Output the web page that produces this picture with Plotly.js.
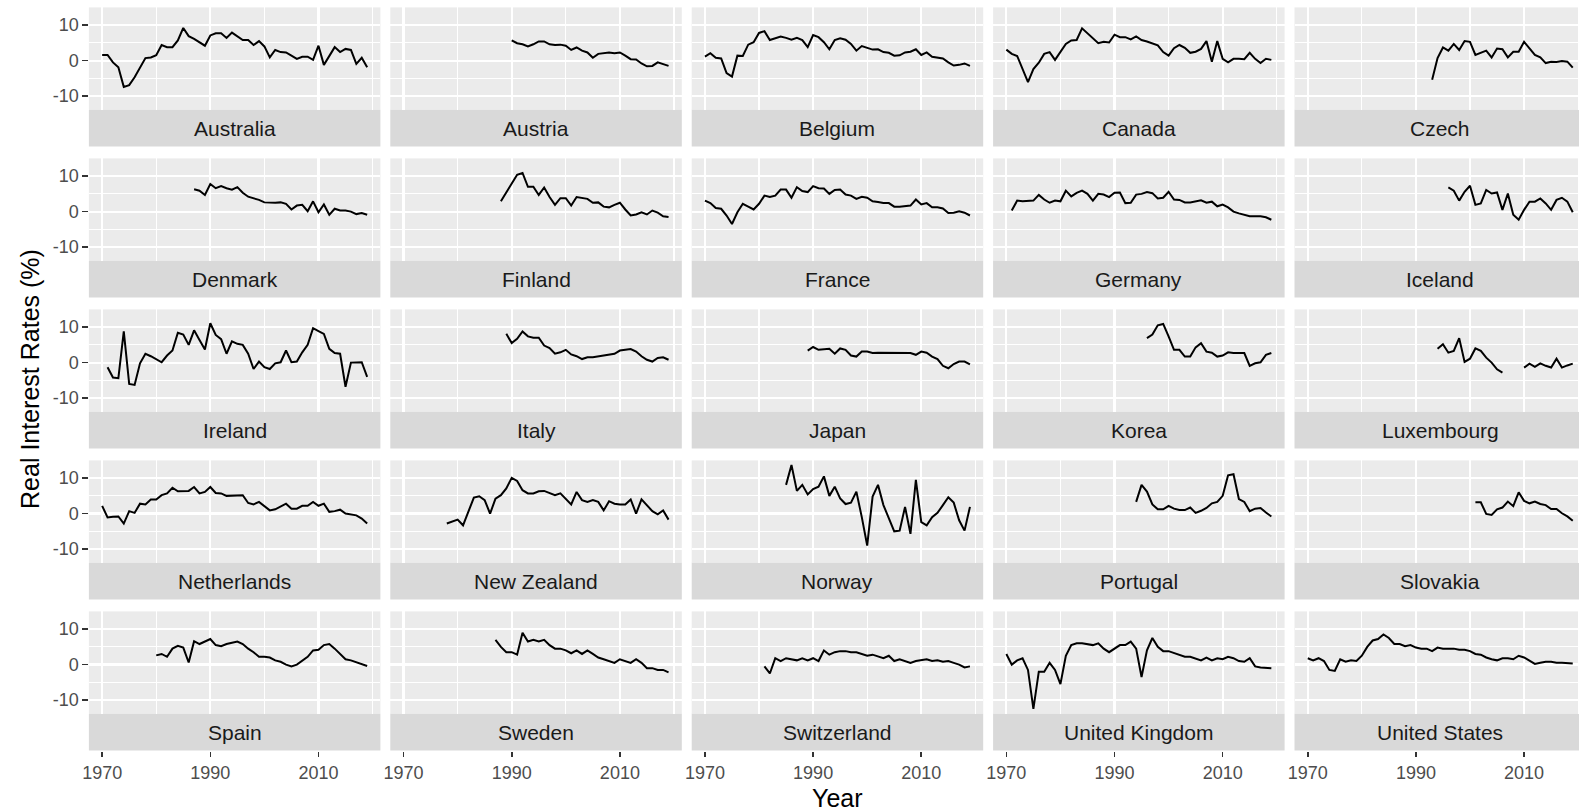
<!DOCTYPE html>
<html>
<head>
<meta charset="utf-8">
<script src="https://cdn.plot.ly/plotly-3.0.1.min.js"></script>
<style>
  html, body { margin: 0; padding: 0; overflow: hidden; background: #ffffff; }
  #chart { width: 1600px; height: 812px; }
</style>
</head>
<body>
<div id="chart"></div>
<script>
// Real interest rates (%) by country, one panel per country.
const countries = ["Australia", "Austria", "Belgium", "Canada", "Czech",
  "Denmark", "Finland", "France", "Germany", "Iceland",
  "Ireland", "Italy", "Japan", "Korea", "Luxembourg",
  "Netherlands", "New Zealand", "Norway", "Portugal", "Slovakia",
  "Spain", "Sweden", "Switzerland", "United Kingdom", "United States"];

// First year of each country's series (same order as countries)
const startYears = [1970, 1990, 1970, 1970, 1993,
  1987, 1988, 1970, 1971, 1996,
  1971, 1989, 1989, 1996, 1994,
  1970, 1978, 1985, 1994, 2001,
  1980, 1987, 1981, 1970, 1970];

const australia = [1.6, 1.6, -0.5, -1.9, -7.4, -6.9, -4.7, -1.9, 0.7, 0.9,
  1.5, 4.4, 3.8, 3.8, 5.7, 9.2, 6.9, 6.1, 5.1, 4.2,
  7.1, 7.7, 7.7, 6.4, 7.9, 6.9, 5.8, 5.8, 4.4, 5.5,
  4.0, 0.9, 3.0, 2.4, 2.3, 1.4, 0.5, 1.1, 1.1, 0.2,
  4.2, -1.2, 1.4, 3.8, 2.4, 3.3, 3.0, -0.9, 0.8, -1.9];
const austria = [5.7, 4.9, 4.6, 4.0, 4.6, 5.4, 5.4, 4.6, 4.4, 4.5,
  4.2, 3.0, 3.7, 2.8, 2.3, 0.8, 1.9, 2.1, 2.3, 2.1,
  2.3, 1.4, 0.4, 0.3, -0.8, -1.6, -1.5, -0.5, -1.1, -1.5];
const belgium = [1.1, 2.1, 0.8, 0.6, -3.5, -4.5, 1.4, 1.3, 4.5, 5.2,
  7.8, 8.3, 5.8, 6.3, 6.8, 6.4, 5.9, 6.4, 5.8, 3.8,
  7.2, 6.6, 5.2, 3.2, 5.8, 6.3, 5.9, 4.7, 2.8, 4.1,
  3.5, 3.1, 3.2, 2.4, 2.2, 1.4, 1.5, 2.3, 2.5, 3.2,
  1.6, 2.3, 1.1, 0.9, 0.6, -0.5, -1.4, -1.2, -0.8, -1.5];
const canada = [3.1, 1.9, 1.3, -2.4, -6.1, -2.4, -0.6, 1.9, 2.4, 0.2,
  2.4, 4.7, 5.7, 5.8, 9.1, 7.7, 6.2, 4.9, 5.3, 5.1,
  7.3, 6.6, 6.6, 6.0, 6.8, 5.8, 5.4, 4.9, 4.3, 2.4,
  1.4, 3.5, 4.4, 3.6, 2.2, 2.5, 3.3, 5.5, -0.3, 5.5,
  0.5, -0.5, 0.5, 0.5, 0.4, 2.2, 0.5, -0.7, 0.5, 0.2];
const czech = [-5.4, 0.7, 3.7, 2.8, 4.7, 3.0, 5.5, 5.3, 1.6, 2.2,
  2.8, 0.9, 3.4, 3.2, 0.9, 2.5, 2.5, 5.3, 3.4, 1.6,
  0.9, -0.7, -0.3, -0.4, -0.1, -0.3, -2.0];
const denmark = [6.3, 5.9, 4.7, 7.8, 6.6, 7.2, 6.6, 6.2, 6.9, 5.3,
  4.2, 3.8, 3.3, 2.6, 2.5, 2.5, 2.6, 2.2, 0.6, 1.7,
  1.9, 0.1, 2.9, -0.2, 2.0, -0.9, 0.8, 0.3, 0.3, 0.0,
  -0.7, -0.4, -0.9];
const finland = [2.9, 5.4, 8.0, 10.4, 10.9, 7.0, 7.0, 4.7, 6.8, 4.1,
  1.9, 3.8, 3.8, 1.7, 4.1, 3.9, 3.6, 2.5, 2.6, 1.4,
  1.2, 1.9, 2.5, 0.6, -1.1, -0.8, -0.2, -0.8, 0.3, -0.3,
  -1.3, -1.5];
const france = [3.1, 2.4, 1.0, 0.8, -1.1, -3.5, -0.2, 2.2, 1.4, 0.6,
  2.2, 4.5, 4.1, 4.5, 6.2, 6.2, 3.9, 6.9, 5.8, 5.5,
  7.2, 6.6, 6.5, 5.0, 6.1, 6.2, 4.8, 4.5, 3.6, 4.2,
  3.9, 2.9, 2.7, 2.4, 2.4, 1.4, 1.4, 1.5, 1.7, 3.4,
  2.0, 2.4, 1.2, 1.2, 0.9, -0.4, -0.3, 0.1, -0.3, -1.1];
const germany = [0.3, 3.1, 2.9, 3.1, 3.1, 4.7, 3.4, 2.5, 3.1,
  2.9, 5.9, 4.3, 5.3, 5.9, 5.0, 3.1, 5.0, 4.8, 4.1,
  5.3, 5.4, 2.4, 2.5, 4.8, 5.0, 5.5, 5.2, 3.7, 3.9,
  5.6, 3.4, 3.3, 2.6, 2.6, 2.8, 3.2, 2.5, 2.8, 1.5,
  2.0, 1.2, 0.0, -0.5, -0.8, -1.3, -1.3, -1.3, -1.6, -2.3];
const iceland = [6.8, 5.9, 3.1, 5.6, 7.3, 1.9, 2.3, 6.1, 5.1, 5.4,
  0.5, 5.1, -0.9, -2.3, 0.5, 2.8, 2.8, 3.7, 2.3, 0.5,
  3.3, 3.9, 2.8, -0.2];
const ireland = [-1.3, -4.2, -4.4, 8.8, -6.0, -6.3, -0.2, 2.5, 1.8,
  0.9, 0.1, 2.0, 3.4, 8.4, 7.9, 5.0, 9.1, 6.4, 3.7,
  11.1, 7.8, 6.6, 2.5, 6.0, 5.3, 5.0, 2.5, -1.8, 0.3,
  -1.3, -1.8, -0.2, 0.1, 3.4, 0.1, 0.3, 2.9, 5.0, 9.7,
  8.9, 8.1, 3.9, 2.7, 2.5, -6.8, 0.0, 0.0, 0.1, -4.0];
const italy = [8.1, 5.5, 6.7, 8.8, 7.4, 7.0, 7.0, 4.8, 4.1, 2.5,
  2.9, 3.6, 2.3, 1.8, 1.0, 1.5, 1.5, 1.8, 2.0, 2.2,
  2.5, 3.4, 3.7, 3.8, 3.1, 1.8, 0.8, 0.3, 1.3, 1.5,
  0.8];
const japan = [3.4, 4.4, 3.6, 3.8, 3.9, 2.5, 4.0, 3.6, 2.0, 1.7,
  3.1, 3.1, 2.7, 2.8, 2.8, 2.8, 2.8, 2.8, 2.7, 2.7,
  2.2, 3.1, 2.8, 1.7, 1.0, -0.9, -1.6, -0.4, 0.3, 0.3,
  -0.5];
const korea = [6.9, 7.9, 10.5, 10.9, 7.4, 3.6, 3.6, 1.7, 1.7, 4.3,
  5.5, 3.1, 2.8, 1.7, 2.0, 2.9, 2.7, 2.7, 2.7, -0.9,
  -0.2, 0.1, 2.2, 2.7];
const luxembourg = [3.9, 5.2, 2.8, 3.3, 6.9, 0.2, 1.1, 4.0, 3.3, 1.4,
  0.0, -1.9, -2.8, null, null, null, -1.4, -0.3, -1.2, -0.2,
  -0.9, -1.4, 1.1, -1.4, -0.8, -0.3];
const netherlands = [2.2, -1.1, -0.9, -0.8, -2.8, 0.7, 0.2, 2.8, 2.6, 4.0,
  4.0, 5.2, 5.7, 7.3, 6.3, 6.4, 6.4, 7.5, 5.7, 6.1,
  7.5, 5.8, 5.7, 5.0, 5.0, 5.0, 5.2, 3.0, 2.6, 3.3,
  2.1, 0.9, 1.2, 1.9, 2.8, 1.4, 1.4, 2.2, 2.2, 3.3,
  2.2, 2.8, 0.5, 0.7, 1.1, 0.0, -0.2, -0.5, -1.4, -2.8];
const newZealand = [-2.8, -2.2,
  -1.7, -3.3, 0.9, 4.5, 4.9, 3.8, 0.0, 4.2, 5.2, 7.1,
  10.1, 9.2, 6.6, 5.7, 5.7, 6.3, 6.4, 5.7, 5.2, 5.7,
  4.0, 2.6, 6.1, 3.8, 3.3, 3.8, 3.3, 0.9, 3.5, 2.8,
  2.6, 2.6, 4.0, 0.0, 4.0, 2.2, 0.7, -0.2, 0.9, -1.7];
const norway = [8.1, 13.7, 6.4, 8.1, 5.4,
  6.9, 7.6, 10.5, 5.0, 7.6, 4.3, 2.7, 3.1, 6.2, -1.0,
  -9.0, 4.8, 8.1, 2.4, -1.4, -5.0, -4.8, 1.9, -5.7, 9.5,
  -2.4, -3.3, -1.0, 0.2, 2.4, 4.6, 3.1, -1.9, -4.8, 1.9];
const portugal = [3.3, 8.1, 6.2, 2.6, 1.2, 1.2, 2.2, 1.4, 1.0, 1.0,
  1.7, 0.2, 0.8, 1.6, 2.9, 3.3, 5.0, 10.8, 11.1, 4.1,
  3.3, 0.7, 1.4, 1.6, 0.3, -0.8];
const slovakia = [3.2, 3.2, -0.1, -0.4, 1.2, 1.7, 3.4, 2.1, 6.0, 3.6,
  2.9, 3.4, 2.7, 2.4, 1.3, 1.3, 0.1, -0.8, -2.0];
const spain = [2.6, 3.0, 2.2, 4.5, 5.3, 4.8, 0.6, 6.6, 5.8, 6.5,
  7.2, 5.5, 5.2, 5.8, 6.2, 6.5, 5.8, 4.5, 3.5, 2.2,
  2.2, 2.0, 1.2, 0.8, 0.0, -0.5, 0.0, 1.0, 2.2, 4.0,
  4.2, 5.5, 5.8, 4.5, 3.0, 1.5, 1.2, 0.6, 0.2, -0.4];
const sweden = [7.0, 5.0, 3.5, 3.5, 2.8, 9.0, 6.5, 7.0, 6.5, 7.0,
  5.5, 4.5, 4.5, 4.0, 3.2, 4.0, 3.0, 4.0, 3.0, 2.0,
  1.5, 1.0, 0.5, 1.5, 1.0, 0.5, 1.5, 0.5, -1.0, -1.0,
  -1.5, -1.5, -2.2];
const switzerland = [-0.5, -2.5, 1.8, 1.0, 1.8, 1.5, 1.2, 1.8, 1.2, 1.8,
  1.0, 4.0, 2.8, 3.5, 3.8, 3.8, 3.5, 3.5, 3.0, 2.5,
  2.8, 2.2, 1.8, 2.5, 1.0, 1.5, 1.0, 0.5, 1.0, 1.2,
  1.5, 1.0, 1.2, 0.8, 1.0, 0.5, 0.0, -0.8, -0.5];
const unitedKingdom = [3.0, 0.0, 1.2, 1.8, -1.5, -12.5, -2.0, -2.0, 0.5, -1.5,
  -5.5, 2.5, 5.5, 6.0, 6.0, 5.8, 5.5, 6.0, 4.5, 3.5,
  4.5, 5.5, 5.5, 6.5, 4.5, -3.5, 4.0, 7.5, 5.0, 3.8,
  3.8, 3.2, 2.8, 2.2, 2.2, 1.8, 1.2, 2.0, 1.2, 1.8,
  1.5, 2.2, 1.8, 1.0, 0.8, 1.8, -0.5, -0.8, -0.8, -1.0];
const unitedStates = [1.8, 1.2, 1.8, 1.0, -1.5, -1.8, 1.5, 0.8, 1.2, 1.0,
  2.5, 5.0, 6.8, 7.2, 8.5, 7.5, 5.8, 5.8, 5.2, 5.5,
  4.8, 4.5, 4.5, 3.8, 4.8, 4.5, 4.5, 4.5, 4.2, 4.2,
  3.8, 3.0, 2.8, 2.0, 1.5, 1.2, 1.8, 1.8, 1.5, 2.5,
  2.0, 1.0, 0.2, 0.5, 0.8, 0.8, 0.5, 0.5, 0.5, 0.3];

const seriesValues = [australia, austria, belgium, canada, czech,
  denmark, finland, france, germany, iceland,
  ireland, italy, japan, korea, luxembourg,
  netherlands, newZealand, norway, portugal, slovakia,
  spain, sweden, switzerland, unitedKingdom, unitedStates];

// Axis breaks and labels
const xMajor = [1970, 1990, 2010];
const xMinor = [1980, 2000, 2020];
const yMajor = [-10, 0, 10];
const yMajorText = ["-10", "0", "10"];
const yMinor = [-5, 5, 15];

// ---- panel geometry (pixels) ----
const W = 1600, H = 812;
const colLeft = 88.9, colStep = 301.4, panelW = 291.5;
const rowTop = 7.4, rowStep = 151, panelH = 102.4, stripH = 36.7;
const xRange = [1967.55, 2021.45];
const yRange = [-13.87, 15.0];

const FONT = "Liberation Sans, Arial, Helvetica, sans-serif";
const PANEL_BG = "#EBEBEB";
const STRIP_BG = "#D9D9D9";

const traces = [];
const shapes = [];
const annotations = [];
const layout = {
  width: W, height: H,
  margin: {l: 0, r: 0, t: 0, b: 0, pad: 0},
  paper_bgcolor: "#ffffff",
  plot_bgcolor: PANEL_BG,
  showlegend: false,
  hovermode: false,
  font: {family: FONT, color: "#4D4D4D", size: 18}
};

countries.forEach((name, i) => {
  const r = Math.floor(i / 5), c = i % 5;
  const n = i === 0 ? "" : String(i + 1);
  const x0 = colLeft + c * colStep, x1 = x0 + panelW;
  const y0 = rowTop + r * rowStep, y1 = y0 + panelH, s1 = y1 + stripH;

  const vals = seriesValues[i];
  const yrs = vals.map((_, k) => startYears[i] + k);
  traces.push({
    type: "scatter", mode: "lines",
    x: yrs, y: vals,
    xaxis: "x" + n, yaxis: "y" + n,
    line: {color: "#000000", width: 2},
    connectgaps: false,
    hoverinfo: "skip"
  });

  const bottomRow = r === 4;
  const leftCol = c === 0;

  layout["xaxis" + n] = {
    domain: [x0 / W, x1 / W],
    range: xRange,
    anchor: bottomRow ? "free" : "y" + n,
    position: bottomRow ? 1 - s1 / H : undefined,
    tickmode: "array", tickvals: xMajor,
    showgrid: true, gridcolor: "#ffffff", gridwidth: 2.2,
    minor: {tickmode: "array", tickvals: xMinor, showgrid: true, gridcolor: "#ffffff", gridwidth: 1.1, ticks: ""},
    zeroline: false, showline: false,
    showticklabels: bottomRow,
    ticks: bottomRow ? "outside" : "",
    ticklen: 5.5, tickwidth: 1.6, tickcolor: "#333333",
    tickfont: {family: FONT, size: 18, color: "#4D4D4D"},
    fixedrange: true
  };
  layout["yaxis" + n] = {
    domain: [1 - y1 / H, 1 - y0 / H],
    range: yRange,
    anchor: "x" + n,
    tickmode: "array", tickvals: yMajor, ticktext: yMajorText,
    showgrid: true, gridcolor: "#ffffff", gridwidth: 2.2,
    minor: {tickmode: "array", tickvals: yMinor, showgrid: true, gridcolor: "#ffffff", gridwidth: 1.1, ticks: ""},
    zeroline: false, showline: false,
    showticklabels: leftCol,
    ticks: leftCol ? "outside" : "",
    ticklen: 5.5, tickwidth: 1.6, tickcolor: "#333333",
    tickfont: {family: FONT, size: 18, color: "#4D4D4D"},
    fixedrange: true
  };

  // facet strip under each panel
  shapes.push({
    type: "rect", xref: "paper", yref: "paper",
    x0: x0 / W, x1: x1 / W, y0: 1 - s1 / H, y1: 1 - y1 / H,
    fillcolor: STRIP_BG, line: {width: 0}, layer: "below"
  });
  annotations.push({
    xref: "paper", yref: "paper",
    x: (x0 + panelW / 2) / W, y: 1 - (y1 + stripH / 2) / H,
    xanchor: "center", yanchor: "middle",
    text: name, showarrow: false,
    font: {family: FONT, size: 21, color: "#1A1A1A"}
  });
});

// axis titles
const gridLeft = colLeft, gridRight = colLeft + 4 * colStep + panelW;
const gridBottom = rowTop + 4 * rowStep + panelH + stripH;
annotations.push({
  xref: "paper", yref: "paper",
  x: (gridLeft + gridRight) / 2 / W, y: 1 - 797.5 / H,
  xanchor: "center", yanchor: "middle",
  text: "Year", showarrow: false,
  font: {family: FONT, size: 25, color: "#000000"}
});
annotations.push({
  xref: "paper", yref: "paper",
  x: 30 / W, y: 1 - (rowTop + gridBottom) / 2 / H,
  xanchor: "center", yanchor: "middle", textangle: -90,
  text: "Real Interest Rates (%)", showarrow: false,
  font: {family: FONT, size: 25, color: "#000000"}
});

layout.shapes = shapes;
layout.annotations = annotations;

Plotly.newPlot("chart", traces, layout, {staticPlot: true, displayModeBar: false, responsive: false});
</script>
</body>
</html>
